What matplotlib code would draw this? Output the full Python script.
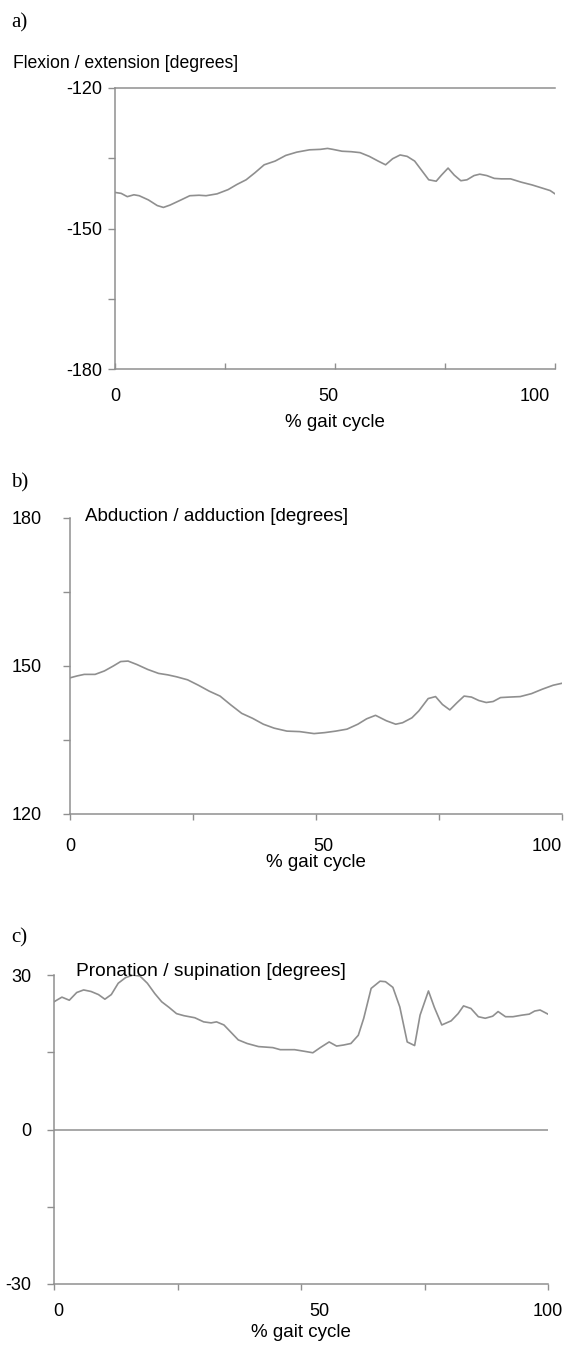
import matplotlib.pyplot as plt
from matplotlib.ticker import FixedLocator, NullFormatter

# digitised joint angles, % gait cycle vs degrees
flex_x = [0, 1.4, 2.8, 4.3, 5.5, 7.6, 9.6, 11, 12.5, 15, 17, 19.1, 20.7, 23.2, 25.7,
          27.7, 29.8, 31.8, 33.9, 36.4, 38.8, 41.3, 44.2, 46.7, 48.3, 49.5, 51.6, 53.7,
          55.7, 57.8, 59.8, 61.5, 63.1, 64.8, 66.4, 68.1, 69.7, 71.3, 73, 74.2, 75.7,
          77.1, 78.6, 80, 81.6, 82.9, 84.5, 86.2, 87.8, 89.9, 92.3, 94.8, 97.2, 98.9, 100]
flex_y = [-142.3, -142.5, -143.2, -142.8, -143.0, -143.9, -145.1, -145.5, -145.0, -143.9,
          -143.0, -142.9, -143.0, -142.6, -141.7, -140.6, -139.6, -138.1, -136.4, -135.6,
          -134.4, -133.7, -133.2, -133.1, -132.9, -133.1, -133.5, -133.6, -133.8, -134.6,
          -135.6, -136.4, -135.1, -134.3, -134.6, -135.6, -137.6, -139.6, -139.9, -138.6,
          -137.1, -138.6, -139.8, -139.6, -138.7, -138.4, -138.7, -139.3, -139.4, -139.4,
          -140.1, -140.7, -141.4, -141.9, -142.6]

abd_x = [0, 1.5, 2.9, 5.1, 7, 8.8, 10.3, 11.8, 13.6, 15.8, 18, 19.9, 21.7, 23.9, 26.1,
         28.3, 30.5, 32.7, 34.9, 37.1, 39.3, 41.5, 44.1, 46.7, 49.6, 51.8, 54, 56.3, 58.5,
         60.3, 62.1, 64.3, 66.2, 67.6, 69.5, 70.9, 72.8, 74.3, 75.7, 77.2, 78.7, 80.1,
         81.6, 83.1, 84.6, 86, 87.5, 89.3, 91.5, 93.8, 96, 98.2, 100]
abd_y = [147.6, 148.0, 148.3, 148.3, 149.0, 150.0, 150.9, 151.0, 150.3, 149.3, 148.5,
         148.2, 147.8, 147.2, 146.1, 144.9, 143.9, 142.1, 140.4, 139.4, 138.2, 137.4,
         136.8, 136.7, 136.3, 136.5, 136.8, 137.2, 138.2, 139.3, 140.0, 138.9, 138.2,
         138.5, 139.5, 140.9, 143.4, 143.8, 142.2, 141.1, 142.6, 143.9, 143.7, 143.0,
         142.6, 142.8, 143.6, 143.7, 143.8, 144.4, 145.3, 146.1, 146.5]

pro_x = [0, 1.6, 3.1, 4.6, 6, 7.5, 9, 10.3, 11.6, 13, 14.5, 16, 17.4, 18.9, 20.4, 21.8,
         23.3, 24.8, 26.3, 28.5, 30.3, 31.8, 32.9, 34.4, 35.8, 37.3, 39.1, 41.4, 44.3,
         45.8, 48.7, 50.6, 52.4, 53.9, 55.7, 57.2, 58.6, 60.1, 61.6, 62.7, 64.2, 66,
         67.1, 68.6, 70, 71.5, 73, 74.1, 75.8, 77, 78.5, 80.4, 81.8, 82.9, 84.4, 85.9,
         87.3, 88.8, 89.9, 91.4, 92.9, 94.7, 96.2, 97.3, 98.4, 100]
pro_y = [24.8, 25.7, 25.1, 26.6, 27.1, 26.8, 26.2, 25.3, 26.2, 28.4, 29.5, 30.0, 29.8,
         28.4, 26.4, 24.8, 23.7, 22.5, 22.1, 21.7, 20.9, 20.7, 20.9, 20.3, 18.9, 17.4,
         16.7, 16.1, 15.9, 15.5, 15.5, 15.2, 14.9, 15.9, 17.0, 16.2, 16.4, 16.7, 18.3,
         21.6, 27.4, 28.8, 28.7, 27.6, 23.8, 17.0, 16.3, 22.2, 26.9, 23.7, 20.3, 21.1,
         22.5, 24.0, 23.5, 21.9, 21.6, 22.0, 22.9, 21.9, 21.9, 22.2, 22.4, 23.0, 23.2, 22.4]

W, H = 567, 1347
GREY = '#8f8f8f'
SANS = 'Liberation Sans'
SERIF = 'Liberation Serif'

plt.rcParams['font.family'] = SANS
plt.rcParams['font.size'] = 13
plt.rcParams['axes.unicode_minus'] = False


def rect(left, top, right, bottom):
    return [left / W, 1 - bottom / H, (right - left) / W, (bottom - top) / H]


def fx(px):
    return px / W


def fy(py):
    return 1 - py / H


def style(ax, ylim, ylab_pad, xlab_pos, xlab_pad, xtick_dir):
    ax.set_xlim(0, 100)
    ax.set_ylim(*ylim)
    for s in ax.spines.values():
        s.set_color(GREY)
        s.set_linewidth(1.1)
    ax.spines['right'].set_visible(False)
    ax.spines['top'].set_visible(False)
    lo, hi = ylim
    ax.yaxis.set_major_locator(FixedLocator([lo, (lo + hi) / 2, hi]))
    ax.yaxis.set_minor_locator(FixedLocator([lo + 15, hi - 15]))
    ax.tick_params(axis='y', which='both', direction='out', length=5, width=1,
                   color=GREY, pad=ylab_pad, labelsize=13)
    # tick marks every 25 %, labels where the original prints them
    ax.xaxis.remove_overlapping_locs = False
    ax.xaxis.set_minor_locator(FixedLocator([0, 25, 50, 75, 100]))
    ax.xaxis.set_minor_formatter(NullFormatter())
    ax.xaxis.set_major_locator(FixedLocator(xlab_pos))
    ax.set_xticklabels(['0', '50', '100'])
    ax.tick_params(axis='x', which='minor', direction=xtick_dir, length=4.5, width=1, color=GREY)
    ax.tick_params(axis='x', which='major', length=0, pad=xlab_pad, labelsize=13)


fig = plt.figure(figsize=(W / 100, H / 100), dpi=100)

# a) flexion / extension
ax1 = fig.add_axes(rect(115, 88, 555, 369))
ax1.plot(flex_x, flex_y, color=GREY, lw=1.2)
style(ax1, (-180, -120), 4.5, [0, 48.6, 95.5], 13.5, 'in')
ax1.spines['top'].set_visible(True)
fig.text(fx(11), fy(27), 'a)', family=SERIF, fontsize=15, va='baseline')
fig.text(fx(12.7), fy(68), 'Flexion / extension [degrees]', fontsize=12.7, va='baseline')
fig.text(fx(335), fy(427), '% gait cycle', fontsize=13.5, ha='center', va='baseline')

# b) abduction / adduction
ax2 = fig.add_axes(rect(70, 518, 562, 814))
ax2.plot(abd_x, abd_y, color=GREY, lw=1.2)
style(ax2, (120, 180), 15, [0, 51.6, 97], 17, 'out')
fig.text(fx(11), fy(487), 'b)', family=SERIF, fontsize=15, va='baseline')
fig.text(fx(85), fy(521), 'Abduction / adduction [degrees]', fontsize=13.5, va='baseline')
fig.text(fx(316), fy(867), '% gait cycle', fontsize=13.5, ha='center', va='baseline')

# c) pronation / supination
ax3 = fig.add_axes(rect(54, 975, 548, 1284))
ax3.plot(pro_x, pro_y, color=GREY, lw=1.2)
ax3.axhline(0, color=GREY, lw=1.1)
style(ax3, (-30, 30), 11.5, [0.8, 53.8, 100], 13.5, 'out')
fig.text(fx(11), fy(942), 'c)', family=SERIF, fontsize=15, va='baseline')
fig.text(fx(76), fy(976), 'Pronation / supination [degrees]', fontsize=13.8, va='baseline',
         zorder=5)
fig.text(fx(301), fy(1337), '% gait cycle', fontsize=13.5, ha='center', va='baseline')

fig.savefig('out.png', dpi=100)
